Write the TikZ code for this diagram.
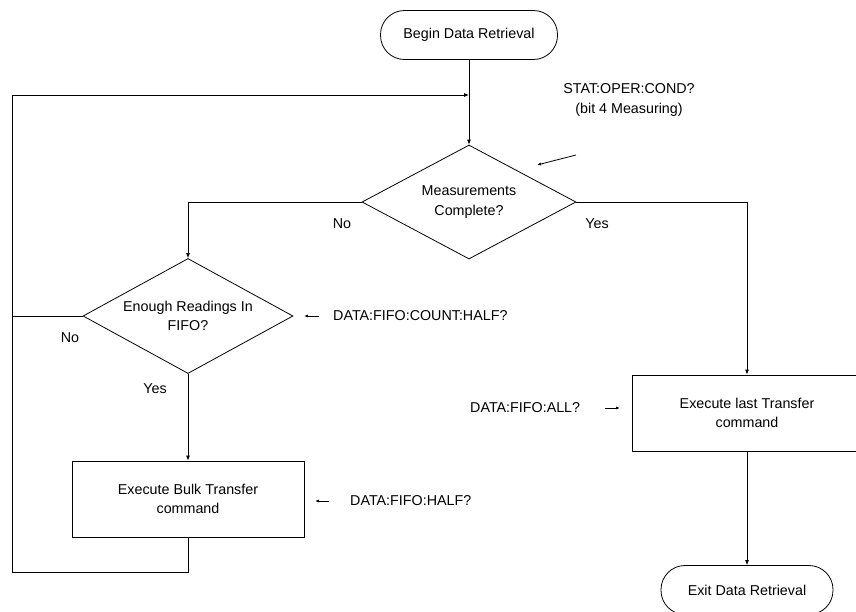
\documentclass[tikz,border=0pt]{standalone}
\usepackage{fontspec}
\setmainfont{Liberation Sans}
\usetikzlibrary{shapes.geometric,arrows.meta}
\begin{document}
\begin{tikzpicture}[x=1pt,y=-1pt,
  every node/.style={font=\fontsize{14.3}{19.5}\selectfont},
  lbl/.style={inner sep=0pt},
  term/.style={draw, rounded corners=24pt, minimum width=177pt, minimum height=49pt, align=center, line width=0.8pt},
  dec/.style={draw, diamond, shape aspect=1.88, minimum width=214pt, minimum height=114pt, inner sep=0pt, align=center, line width=0.8pt},
  proc/.style={draw, rectangle, minimum width=232pt, minimum height=76pt, align=center, line width=0.8pt},
  flow/.style={line width=0.8pt, -{Latex[length=5pt,width=4pt]}},
  plain/.style={line width=0.8pt},
  hint/.style={line width=0.8pt, -{Latex[length=4pt,width=3pt]}}
]
\useasboundingbox (0,0) rectangle (856,611);
\clip (0,0) rectangle (856,611);
\fill[white] (0,0) rectangle (856,611);
% nodes
\node[term] (begin) at (469,35) {Begin Data Retrieval};
\node[dec] (meas) at (469,202) {Measurements\\Complete?};
\node[dec, minimum width=210pt, minimum height=115pt] (enough) at (188,316) {Enough Readings In\\FIFO?};
\node[proc] (bulk) at (188,499) {Execute Bulk Transfer\\command};
\node[proc, minimum width=230pt] (last) at (747,413) {Execute last Transfer\\command};
\node[term, minimum width=172pt] (exit) at (747,590) {Exit Data Retrieval};
% junction coordinates
\coordinate (j) at (469,95);
\coordinate (tl) at (12,95);
\coordinate (bl) at (12,572);
\coordinate (bb) at (188,572);
\coordinate (el) at (12,316);
% connectors
\draw[plain] (begin.south) -- (j);
\draw[flow] (j) -- (meas.north);
\draw[flow] (bulk.south) -- (bb) -- (bl) -- (tl) -- (j);
\draw[plain] (enough.west) -- (el);
\draw[flow] (meas.west) -| (enough.north);
\draw[flow] (enough.south) -- (bulk.north);
\draw[flow] (meas.east) -| (last.north);
\draw[flow] (last.south) -- (exit.north);
% branch labels
\node[lbl] (no1) at (342,224) {No};
\node[lbl] (yes1) at (597,224) {Yes};
\node[lbl] (no2) at (70,338) {No};
\node[lbl] (yes2) at (155,389) {Yes};
% command annotations
\node[lbl, align=center] (stat) at (629,100) {STAT:OPER:COND?\\(bit 4 Measuring)};
\coordinate (s1) at (576,155);
\coordinate (s2) at (537,165);
\draw[hint] (s1) -- (s2);
\node[lbl, anchor=west] (cnt) at (333,316) {DATA:FIFO:COUNT:HALF?};
\coordinate (c1) at (319,316);
\coordinate (c2) at (304,316);
\draw[hint] (c1) -- (c2);
\node[lbl, anchor=west] (half) at (350,501) {DATA:FIFO:HALF?};
\coordinate (h1) at (329,501);
\coordinate (h2) at (315,501);
\draw[hint] (h1) -- (h2);
\node[lbl, anchor=west] (all) at (470,408) {DATA:FIFO:ALL?};
\coordinate (a1) at (605,408);
\coordinate (a2) at (620,408);
\draw[hint] (a1) -- (a2);
\end{tikzpicture}
\end{document}
